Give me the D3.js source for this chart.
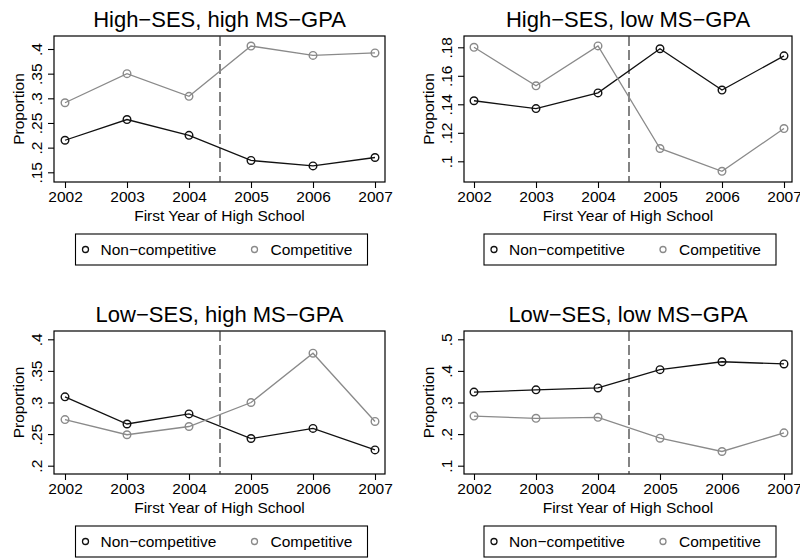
<!DOCTYPE html>
<html>
<head>
<meta charset="utf-8">
<script src="https://cdn.jsdelivr.net/npm/d3@7"></script>
<style>
  html, body { margin: 0; padding: 0; background: #fff; }
  svg { display: block; font-family: "Liberation Sans", Arial, Helvetica, sans-serif; }
</style>
</head>
<body>
<svg id="chart" width="800" height="559"></svg>
<script>
// ---------- data ----------
const years = [2002, 2003, 2004, 2005, 2006, 2007];
const seriesNames = ["Non\u2212competitive", "Competitive"];
const panelTitles = [
  "High\u2212SES, high MS\u2212GPA",
  "High\u2212SES, low MS\u2212GPA",
  "Low\u2212SES, high MS\u2212GPA",
  "Low\u2212SES, low MS\u2212GPA"
];
const hhNon  = [0.215, 0.257, 0.225, 0.174, 0.163, 0.180];
const hhComp = [0.291, 0.350, 0.304, 0.406, 0.387, 0.392];
const hlNon  = [0.1425, 0.137, 0.148, 0.179, 0.150, 0.174];
const hlComp = [0.180, 0.153, 0.181, 0.109, 0.093, 0.123];
const lhNon  = [0.309, 0.266, 0.282, 0.243, 0.259, 0.225];
const lhComp = [0.273, 0.249, 0.262, 0.300, 0.378, 0.270];
const llNon  = [0.333, 0.340, 0.346, 0.404, 0.429, 0.422];
const llComp = [0.257, 0.250, 0.253, 0.187, 0.145, 0.204];
const hhTicks = [0.15, 0.2, 0.25, 0.3, 0.35, 0.4];
const hlTicks = [0.1, 0.12, 0.14, 0.16, 0.18];
const lhTicks = [0.2, 0.25, 0.3, 0.35, 0.4];
const llTicks = [0.1, 0.2, 0.3, 0.4, 0.5];
const cutoffYear = 2004.5;
const xAxisTitle = "First Year of High School";
const yAxisTitle = "Proportion";

// ---------- layout ----------
const panels = [
  { title: panelTitles[0], non: hhNon, comp: hhComp, ticks: hhTicks,
    fx0: 54, fx1: 385, fy0: 36, fy1: 182, xr: [65, 375], yr: [172.3, 49] },
  { title: panelTitles[1], non: hlNon, comp: hlComp, ticks: hlTicks,
    fx0: 464, fx1: 792, fy0: 36, fy1: 182, xr: [474, 784], yr: [161.3, 47.3] },
  { title: panelTitles[2], non: lhNon, comp: lhComp, ticks: lhTicks,
    fx0: 54, fx1: 385, fy0: 331, fy1: 474, xr: [65, 375], yr: [465.7, 339.3] },
  { title: panelTitles[3], non: llNon, comp: llComp, ticks: llTicks,
    fx0: 464, fx1: 792, fy0: 331, fy1: 474, xr: [474, 784], yr: [465.7, 339.3] }
];
const colors = ["#111111", "#8a8a8a"];
const fmt = v => d3.format(".2~f")(v).replace(/^0\./, ".");

const svg = d3.select("#chart");

panels.forEach(p => {
  const g = svg.append("g");
  const x = d3.scaleLinear().domain([years[0], years[years.length - 1]]).range(p.xr);
  const y = d3.scaleLinear().domain([p.ticks[0], p.ticks[p.ticks.length - 1]]).range(p.yr);
  const cx = (p.fx0 + p.fx1) / 2;

  // title
  g.append("text").attr("x", cx).attr("y", p.fy0 - 9)
    .attr("text-anchor", "middle").attr("font-size", 22).attr("fill", "#000")
    .text(p.title);

  // x axis
  const xa = g.append("g").attr("transform", `translate(0,${p.fy1})`)
    .call(d3.axisBottom(x).tickValues(years).tickFormat(d3.format("d")).tickSize(6).tickPadding(3));
  xa.select(".domain").remove();
  xa.selectAll(".tick line").attr("stroke", "#000").attr("stroke-width", 1.1);
  xa.selectAll(".tick text").attr("font-size", 15.5).attr("fill", "#000")
    .attr("font-family", "Liberation Sans, Arial, sans-serif").attr("dy", "0.71em");

  // y axis
  const ya = g.append("g").attr("transform", `translate(${p.fx0},0)`)
    .call(d3.axisLeft(y).tickValues(p.ticks).tickFormat(fmt).tickSize(6).tickPadding(0));
  ya.select(".domain").remove();
  ya.selectAll(".tick line").attr("stroke", "#000").attr("stroke-width", 1.1);
  ya.selectAll(".tick text")
    .attr("font-size", 15.5).attr("fill", "#000")
    .attr("font-family", "Liberation Sans, Arial, sans-serif")
    .attr("x", null).attr("dy", null)
    .attr("text-anchor", "middle")
    .attr("transform", "translate(-12,0) rotate(-90)");

  // axis titles
  g.append("text").attr("x", cx).attr("y", p.fy1 + 39)
    .attr("text-anchor", "middle").attr("font-size", 15.5).attr("fill", "#000")
    .text(xAxisTitle);
  g.append("text")
    .attr("transform", `translate(${p.fx0 - 30},${(p.fy0 + p.fy1) / 2}) rotate(-90)`)
    .attr("text-anchor", "middle").attr("font-size", 15.5).attr("fill", "#000")
    .text(yAxisTitle);

  // frame
  g.append("rect").attr("x", p.fx0).attr("y", p.fy0)
    .attr("width", p.fx1 - p.fx0).attr("height", p.fy1 - p.fy0)
    .attr("fill", "none").attr("stroke", "#000").attr("stroke-width", 1.2);

  // dashed cutoff
  g.append("line").attr("x1", x(cutoffYear)).attr("x2", x(cutoffYear))
    .attr("y1", p.fy0).attr("y2", p.fy1)
    .attr("stroke", "#333").attr("stroke-width", 1.2).attr("stroke-dasharray", "10,4");

  // series
  const line = d3.line().x((d, i) => x(years[i])).y(d => y(d));
  [p.non, p.comp].forEach((vals, si) => {
    g.append("path").datum(vals).attr("d", line)
      .attr("fill", "none").attr("stroke", colors[si]).attr("stroke-width", 1.3);
    g.selectAll(null).data(vals).enter().append("circle")
      .attr("cx", (d, i) => x(years[i])).attr("cy", d => y(d)).attr("r", 3.8)
      .attr("fill", "none").attr("stroke", colors[si]).attr("stroke-width", 1.4);
  });

  // legend
  const bw = 292, bh = 31;
  const bx = cx - bw / 2 + 2, by = p.fy1 + 52;
  const lg = g.append("g").attr("transform", `translate(${bx},${by})`);
  lg.append("rect").attr("width", bw).attr("height", bh)
    .attr("fill", "#fff").attr("stroke", "#000").attr("stroke-width", 1.1);
  const items = [{ sx: 10, tx: 25 }, { sx: 179, tx: 195 }];
  items.forEach((it, si) => {
    lg.append("circle").attr("cx", it.sx).attr("cy", bh / 2).attr("r", 3)
      .attr("fill", "none").attr("stroke", colors[si]).attr("stroke-width", 1.3);
    lg.append("text").attr("x", it.tx).attr("y", bh / 2 + 5.5)
      .attr("font-size", 15.5).attr("fill", "#000").text(seriesNames[si]);
  });
});
</script>
</body>
</html>
